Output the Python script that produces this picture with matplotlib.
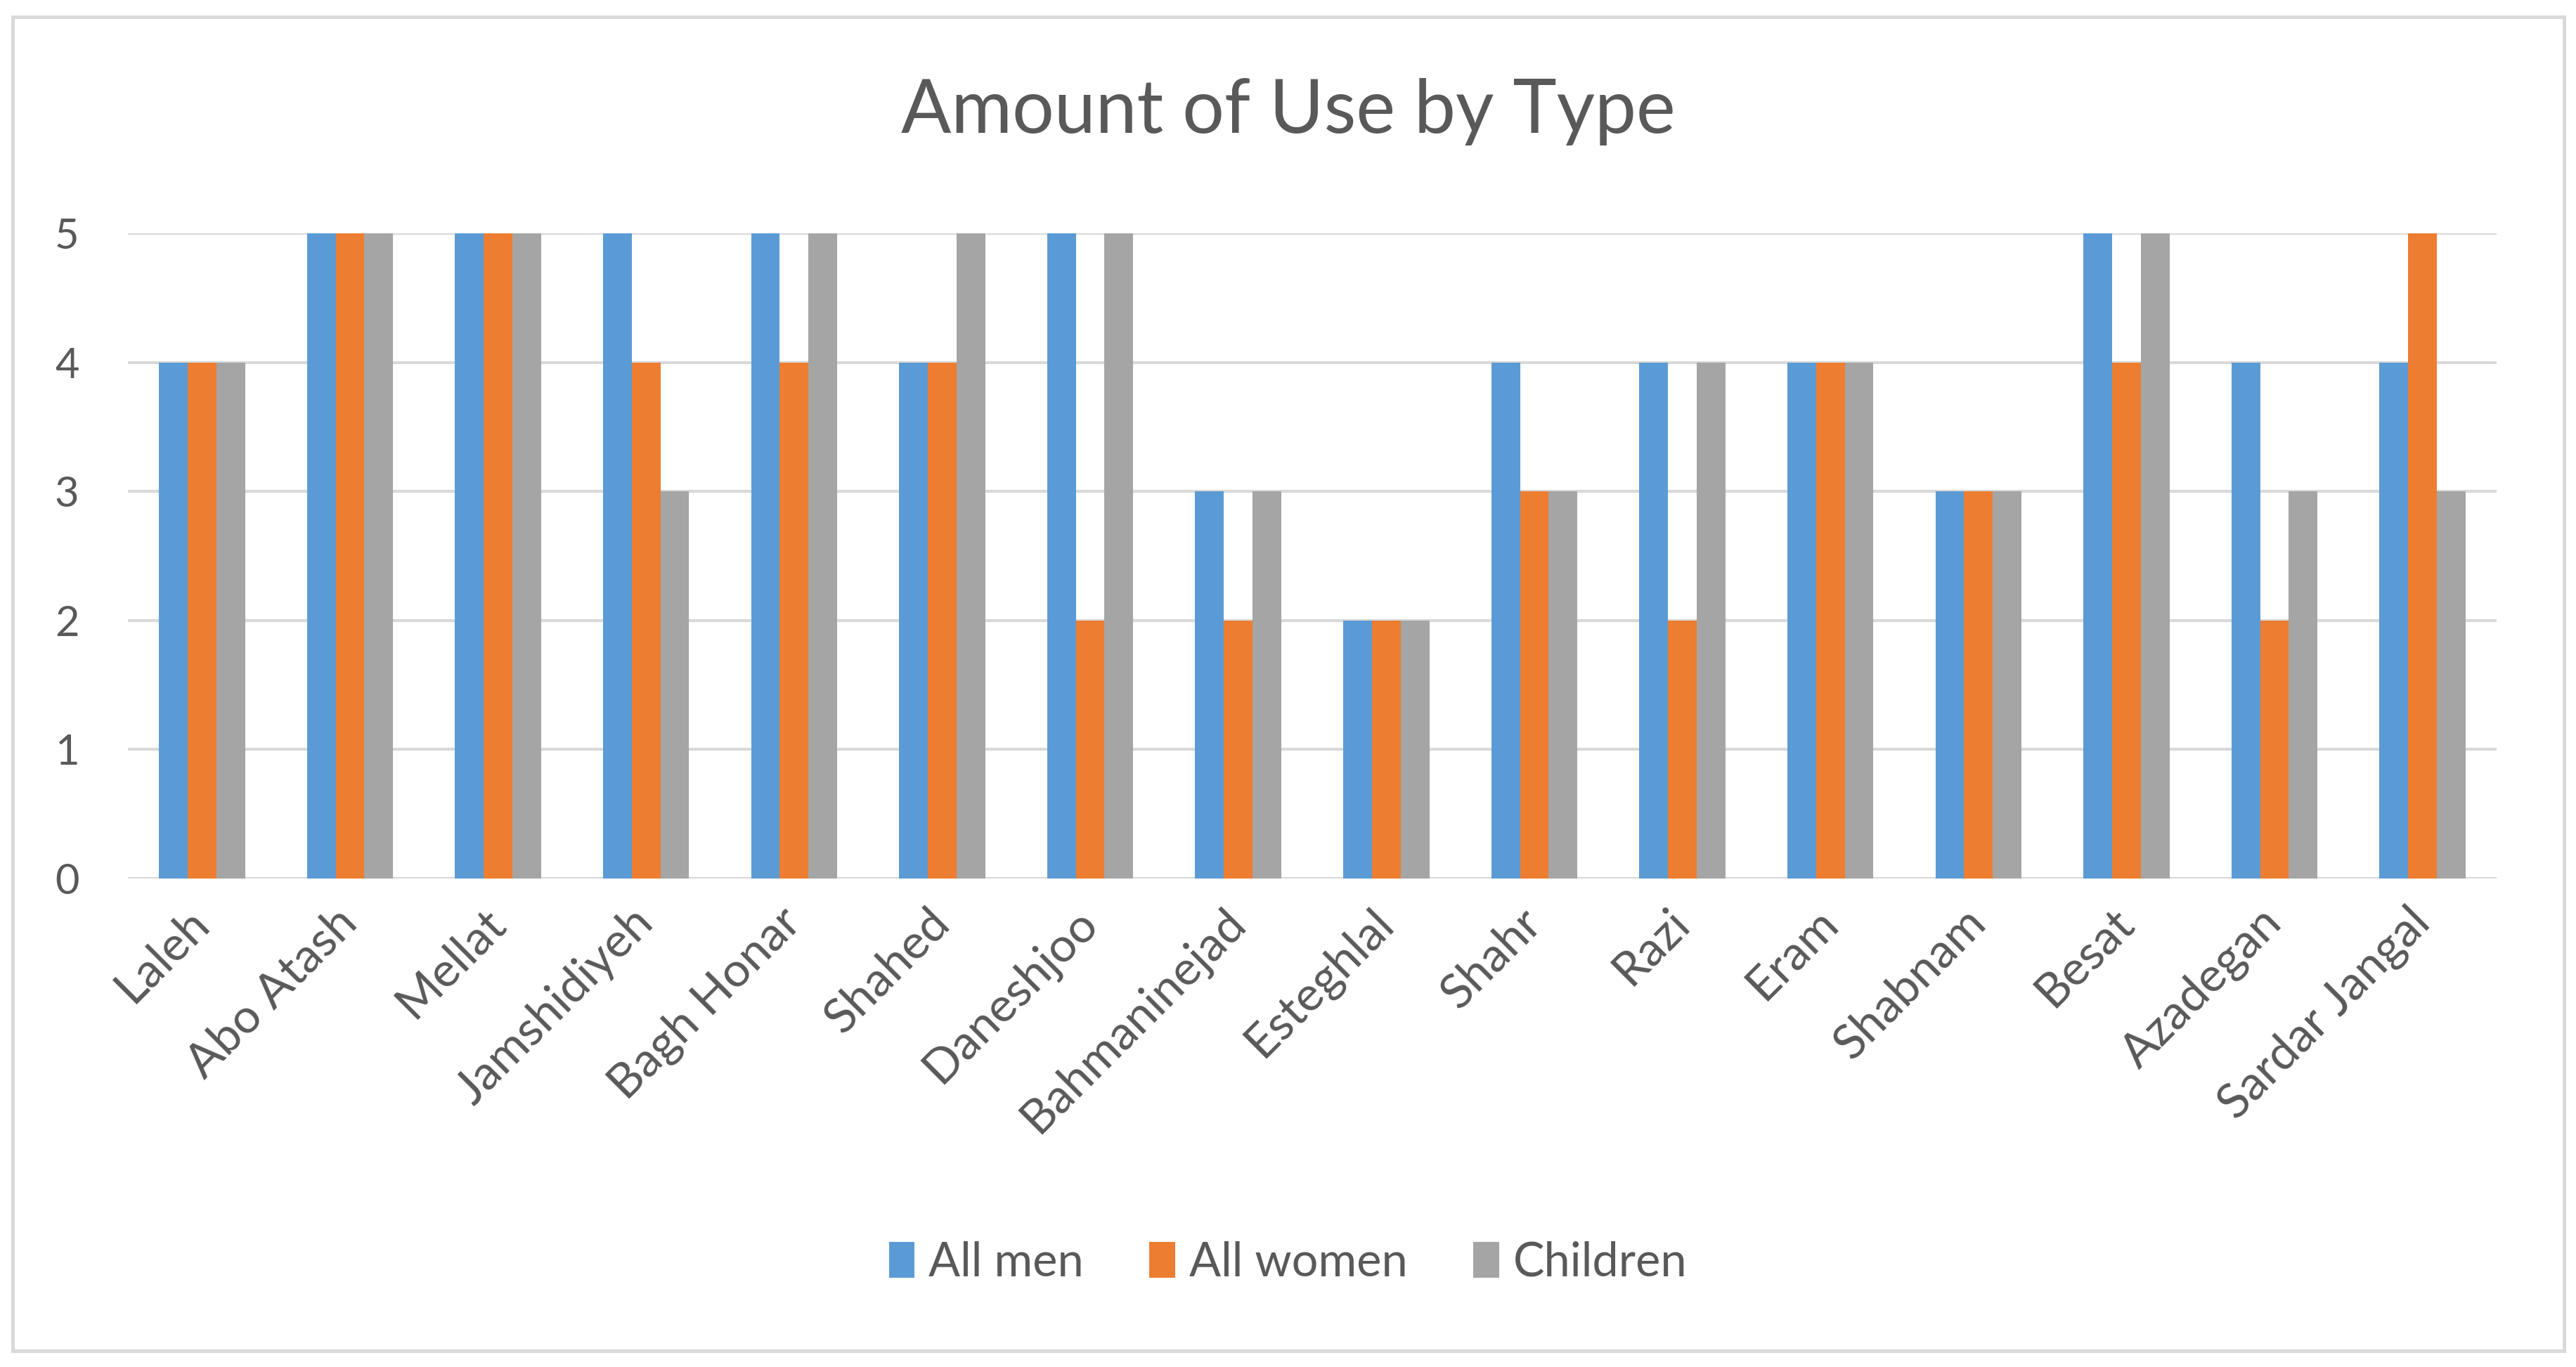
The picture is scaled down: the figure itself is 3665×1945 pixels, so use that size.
import matplotlib
matplotlib.use("Agg")
import matplotlib.pyplot as plt
from matplotlib.patches import Rectangle
import numpy as np

categories = ["Laleh", "Abo Atash", "Mellat", "Jamshidiyeh", "Bagh Honar", "Shahed",
              "Daneshjoo", "Bahmaninejad", "Esteghlal", "Shahr", "Razi", "Eram",
              "Shabnam", "Besat", "Azadegan", "Sardar Jangal"]
all_men = [4, 5, 5, 5, 5, 4, 5, 3, 2, 4, 4, 4, 3, 5, 4, 4]
all_women = [4, 5, 5, 4, 4, 4, 2, 2, 2, 3, 2, 4, 3, 4, 2, 5]
children = [4, 5, 5, 3, 5, 5, 5, 3, 2, 3, 4, 4, 3, 5, 3, 3]
series_names = ["All men", "All women", "Children"]
y_ticks = [0, 1, 2, 3, 4, 5]

colors = ["#5B9BD5", "#ED7D31", "#A5A5A5"]
text_color = "#595959"
grid_color = "#D9D9D9"

plt.rcParams['font.family'] = ['Lato', 'DejaVu Sans']

fig = plt.figure(figsize=(36.65, 19.45), dpi=100)
ax = fig.add_axes([182/3665, 1 - 1250/1945, (3552-182)/3665, (1250-332)/1945])

x = np.arange(len(categories))
w = 0.194
for i, (vals, name) in enumerate(zip([all_men, all_women, children], series_names)):
    ax.bar(x + (i - 1) * w, vals, width=w, color=colors[i], label=name, zorder=3)

ax.set_xlim(-0.5, len(categories) - 0.5)
ax.set_ylim(0, 5)
ax.set_yticks(y_ticks)
ax.set_yticklabels([str(t) for t in y_ticks])
for t in y_ticks:
    ax.axhline(t, color=grid_color, lw=3.0, zorder=1)
for s in ax.spines.values():
    s.set_visible(False)
ax.tick_params(axis='both', length=0, colors=text_color)
ax.tick_params(axis='y', pad=50, labelsize=43)
ax.set_xticks(x)
ax.set_xticklabels(categories, rotation=45, ha='right', va='center', rotation_mode='anchor')
ax.tick_params(axis='x', pad=38, labelsize=49)

fig.text(0.5, 1 - 159/1945, "Amount of Use by Type", ha='center', va='center',
         fontsize=76, color=text_color)

leg = fig.legend(loc='center', bbox_to_anchor=(0.5, 1 - 1797/1945), ncol=3, frameon=False,
                 fontsize=48, handlelength=0.55, handleheight=0.8, handletextpad=0.3,
                 columnspacing=1.4, labelcolor=text_color)

fig.patches.append(Rectangle((18/3665, 1 - 1922/1945), (3648-18)/3665, (1922-24)/1945,
                             transform=fig.transFigure, fill=False, edgecolor=grid_color,
                             lw=3.6, zorder=0))

fig.savefig("out.png", dpi=100, facecolor="white")
